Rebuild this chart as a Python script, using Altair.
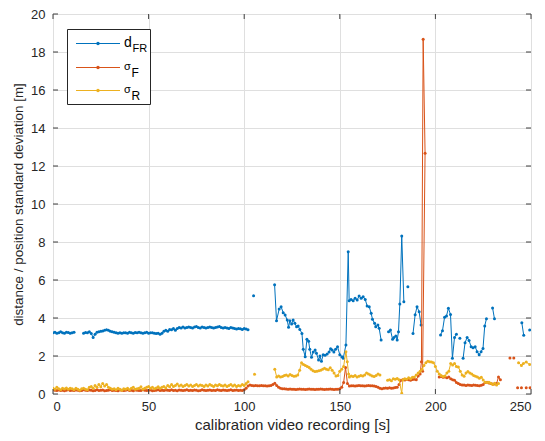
import altair as alt
import pandas as pd

FONT = "Liberation Sans"
C_D, C_F, C_R = "#0072BD", "#D95319", "#EDB120"

# ---------------- data ----------------
# d_FR (blue)
dfr_t = (list(range(0, 12)) + [None] + list(range(16, 103)) + [None] + [104.9] + [None] +
         [115.9, 116.9, 118.3, 119.3, 120.4, 121.4, 122.5, 123.2, 123.9, 124.8, 125.6, 126.5,
          127.4, 128.2, 129.1, 130.2, 130.9, 131.9, 132.8, 133.7, 134.3, 135.2, 136.1, 137.1,
          137.8, 138.9, 139.6, 140.4, 141.3, 142.3, 143.4, 144.4, 145.2, 146.0, 146.9, 147.8,
          148.8, 150.0, 151.1, 151.8, 153.2, 154.4, 154.9, 155.9, 157.0, 158.0, 159.1, 160.1,
          161.2, 162.2, 163.3, 164.3, 165.4, 166.4, 167.1, 168.2, 168.8, 169.9, 170.6, 171.6] + [None] +
         [175.5, 176.5, 177.6, 178.3, 179.3, 180.0, 180.7, 181.4, 182.4, 183.5] + [None] +
         [185.6] + [None] + [188.3, 189.4, 190.4, 191.5, 192.5] + [None] +
         [202.7, 203.7, 204.8, 205.8, 206.8, 207.9, 208.9, 210.0, 211.0] + [None] + [212.8] + [None] +
         [214.5, 215.5, 216.6, 217.6, 218.7, 219.7, 220.8, 221.8, 222.9, 223.9, 224.9, 225.8, 226.7] +
         [None] + [229.9, 230.9] + [None] + [245.2, 246.2] + [None] + [249.3])
dfr_v = ([3.22, 3.25, 3.2, 3.23, 3.27, 3.22, 3.2, 3.25, 3.24, 3.2, 3.22, 3.25] + [None] +
         [3.2, 3.24, 3.22, 3.27, 3.18, 2.98,
          3.15, 3.25, 3.28, 3.3, 3.32, 3.35, 3.38, 3.35, 3.3,
          3.28, 3.25, 3.22, 3.2, 3.22, 3.2, 3.23, 3.22, 3.2, 3.25,
          3.22, 3.2, 3.24, 3.22, 3.25, 3.23, 3.2, 3.22, 3.25, 3.2,
          3.23, 3.22, 3.2, 3.18, 3.2, 3.15, 3.2, 3.3, 3.35, 3.3,
          3.4, 3.38, 3.45, 3.35, 3.45, 3.5, 3.47, 3.52, 3.48, 3.5,
          3.53, 3.5, 3.47, 3.52, 3.55, 3.5, 3.48, 3.52, 3.5, 3.47,
          3.5, 3.53, 3.5, 3.48, 3.5, 3.52, 3.55, 3.5, 3.47, 3.5,
          3.48, 3.45, 3.5, 3.47, 3.45, 3.42, 3.45, 3.43, 3.4, 3.45,
          3.42, 3.38] + [None] + [5.17] + [None] +
         [5.75, 3.86, 4.47, 4.59, 4.28, 4.16, 3.89, 3.51, 3.86, 3.68, 3.89, 3.72,
          3.54, 3.58, 3.4, 3.19, 2.35, 1.96, 2.88, 2.77, 2.35, 1.93, 2.21, 2.32,
          2.14, 1.79, 2.0, 1.72, 2.07, 2.04, 2.11, 2.21, 2.38, 2.32, 2.21, 2.35,
          2.49, 2.07, 1.96, 1.88, 2.58, 7.49, 4.91, 4.98, 4.91, 5.04, 4.95, 5.16,
          5.04, 5.12, 4.98, 4.63, 4.59, 4.25, 3.93, 3.72, 3.54, 3.63, 3.46, 2.84] + [None] +
         [3.28, 3.37, 2.88, 2.98, 3.05, 2.84, 3.28, 4.74, 8.32, 4.86] + [None] +
         [5.65] + [None] + [3.19, 4.17, 4.59, 4.33, 3.63] + [None] +
         [3.11, 3.33, 4.04, 4.11, 4.51, 4.19, 1.88, 2.98, 3.14] + [None] + [2.93] + [None] +
         [1.88, 2.7, 2.98, 2.81, 2.49, 2.44, 2.49, 2.23, 2.07, 2.23, 2.4, 3.58, 3.96] +
         [None] + [4.53, 3.96] + [None] + [3.75, 3.09] + [None] + [3.37])

# sigma_F (orange)
sf_t = (list(range(0, 121)) + list(range(121, 193)) + [192.7, 193.6, 194.6, 193.3] + [None] +
        list(range(202, 235)) + [None, 239, None, 241, None, 243, None, 245, None, 247.5, None, 249.5])
sf_v = ([0.22, 0.2, 0.18, 0.21, 0.19, 0.2, 0.17, 0.2, 0.22, 0.19,
         0.2, 0.18, 0.21, 0.2, 0.17, 0.19, 0.22, 0.2, 0.18, 0.21,
         0.2, 0.17, 0.19, 0.22, 0.18, 0.2, 0.21, 0.17, 0.19, 0.2,
         0.22, 0.18, 0.2, 0.19, 0.17, 0.21, 0.2, 0.18, 0.2, 0.22,
         0.19, 0.2, 0.17, 0.21, 0.2, 0.18, 0.19, 0.22, 0.2, 0.18,
         0.2, 0.21, 0.17, 0.19, 0.2, 0.22, 0.18, 0.2, 0.19, 0.21,
         0.2, 0.18, 0.22, 0.19, 0.2, 0.17, 0.21, 0.2, 0.18, 0.2,
         0.22, 0.19, 0.2, 0.18, 0.21, 0.2, 0.17, 0.19, 0.22, 0.2,
         0.18, 0.2, 0.21, 0.19, 0.2, 0.18, 0.22, 0.2, 0.19, 0.21,
         0.2, 0.18, 0.2, 0.22, 0.19, 0.2, 0.21, 0.18, 0.2, 0.19,
         0.22, 0.3, 0.42, 0.47, 0.45, 0.44, 0.45, 0.43, 0.44, 0.45,
         0.43, 0.44, 0.42, 0.43, 0.45, 0.5, 0.56, 0.45, 0.35, 0.3, 0.28] +
        [0.27, 0.26, 0.25, 0.26, 0.25, 0.25, 0.24, 0.25, 0.26, 0.25,
         0.25, 0.24, 0.25, 0.26, 0.25, 0.25, 0.24, 0.25, 0.25, 0.26,
         0.25, 0.24, 0.25, 0.25, 0.26, 0.25, 0.24, 0.25, 0.25, 0.27,
         0.35, 0.6, 1.4, 0.55, 0.42,
         0.43, 0.44, 0.42, 0.43, 0.45, 0.44, 0.43, 0.42, 0.44, 0.45, 0.43, 0.44, 0.42,
         0.4, 0.35, 0.3, 0.28, 0.3, 0.32, 0.3, 0.33, 0.3, 0.32, 0.34, 0.35, 0.5,
         0.72, 0.75, 0.74, 0.76, 0.75, 0.73, 0.76, 0.78, 0.75, 0.95, 1.05] +
        [1.7, 18.67, 12.67, 1.2] + [None] +
        [0.9, 0.92, 0.88, 0.9, 0.85, 0.9, 0.8, 0.75, 0.72, 0.6, 0.55, 0.5, 0.48, 0.47, 0.45,
         0.47, 0.46, 0.45, 0.47, 0.46, 0.45, 0.44, 0.46, 0.5, 0.6, 0.62, 0.58, 0.55, 0.53,
         0.52, 0.55, 0.9, 0.75] +
        [None, 1.9, None, 1.9, None, 0.33, None, 0.33, None, 0.33, None, 0.33])

# sigma_R (yellow)
sr_t = (list(range(0, 103)) + [None, 105.4, None] + list(range(116, 153)) +
        [153.2, 153.9, 154.6] + list(range(155, 172)) + [None] + list(range(175, 182)) + [182.4] +
        list(range(183, 234)) + [None, 243.5, 245, 246, 247.5, 249.3])
sr_v = ([0.3, 0.25, 0.35, 0.28, 0.22, 0.3, 0.26, 0.32, 0.25, 0.3,
         0.28, 0.22, 0.3, 0.25, 0.2, 0.28, 0.3, 0.25, 0.22, 0.35,
         0.4, 0.3, 0.45, 0.35, 0.5, 0.38, 0.55, 0.42, 0.5, 0.35,
         0.3, 0.25, 0.28, 0.22, 0.3, 0.25, 0.2, 0.28, 0.25, 0.3,
         0.22, 0.3, 0.35, 0.25, 0.28, 0.3, 0.38, 0.25, 0.3, 0.35,
         0.4, 0.3, 0.35, 0.28, 0.32, 0.38, 0.3, 0.35, 0.4, 0.32,
         0.45, 0.38, 0.5, 0.4, 0.45, 0.52, 0.42, 0.48, 0.4, 0.45,
         0.5, 0.42, 0.48, 0.4, 0.45, 0.5, 0.42, 0.48, 0.45, 0.4,
         0.48, 0.42, 0.5, 0.45, 0.4, 0.48, 0.43, 0.5, 0.45, 0.42,
         0.48, 0.4, 0.45, 0.5, 0.42, 0.48, 0.4, 0.45, 0.42, 0.5,
         0.45, 0.55, 0.65] + [None, 1.04, None] +
        [1.3, 0.9, 0.95, 0.9, 0.92, 0.97, 1.0, 0.95, 1.02, 0.98, 0.93, 0.95, 1.0,
         1.25, 1.65, 1.55, 1.5, 1.45, 1.4, 1.3, 1.22, 1.18, 1.2, 1.22, 1.25, 1.3,
         1.35, 1.3, 1.28, 1.38, 1.25, 1.1, 0.95, 0.98, 1.2, 1.3, 1.45] +
        [2.23, 1.7, 1.05] +
        [0.9, 0.95, 0.92, 0.97, 0.9, 0.93, 0.98, 0.95, 1.0, 1.1, 1.05, 1.0, 0.95, 0.92,
         0.98, 1.05, 1.0] + [None] +
        [0.72, 0.75, 0.7, 0.8, 0.78, 0.82, 0.75] + [0.04] +
        [0.75, 0.8, 0.78, 0.85, 0.8, 0.88, 0.9, 1.0, 1.1, 1.2, 1.3, 1.5, 1.65, 1.72, 1.7,
         1.68, 1.65, 1.45, 1.2, 1.05, 0.97, 0.92, 0.95, 1.1, 1.2, 1.6, 1.53, 1.6, 1.45,
         1.42, 1.2, 1.0, 0.93, 1.1, 1.18, 1.1, 1.05, 0.98, 0.93, 0.9, 0.83, 0.88, 0.74,
         0.62, 0.6, 0.62, 0.56, 0.5, 0.56, 0.47, 0.55] +
        [None, 1.65, 1.5, 1.6, 1.68, 1.55])

x_ticks = [0, 50, 100, 150, 200, 250]
y_ticks = [0, 2, 4, 6, 8, 10, 12, 14, 16, 18, 20]


def build(name, ts, vs):
    rows, seg = [], 0
    for i, (t, v) in enumerate(zip(ts, vs)):
        if v is None:
            seg += 1
            continue
        rows.append(dict(series=name, t=t, v=v, seg=f"{name}-{seg}", i=i))
    return pd.DataFrame(rows)


W, H = 478, 380
xs = alt.Scale(domain=[0, 250], nice=False, zero=False)
ys = alt.Scale(domain=[0, 20], nice=False, zero=False)
x_axis = alt.Axis(values=x_ticks, grid=True, gridColor="#dfdfdf", ticks=False, domain=False,
                  labelFont=FONT, labelFontSize=13, labelColor="#262626", labelPadding=6,
                  title="calibration video recording [s]", titleFont=FONT, titleFontSize=15,
                  titleFontWeight="normal", titleColor="#262626", titlePadding=4)
y_axis = alt.Axis(values=y_ticks, grid=True, gridColor="#dfdfdf", ticks=False, domain=False,
                  labelFont=FONT, labelFontSize=13, labelColor="#262626", labelPadding=8,
                  title="distance / position standard deviation [m]", titleFont=FONT,
                  titleFontSize=13.4, titleFontWeight="normal", titleColor="#262626", titlePadding=5)


def X(field="t:Q"):
    return alt.X(field, scale=xs, axis=x_axis)


def Y(field="v:Q"):
    return alt.Y(field, scale=ys, axis=y_axis)


def series_layers(df, color):
    base = alt.Chart(df)
    line = base.mark_line(color=color, strokeWidth=1, clip=True).encode(
        x=X(), y=Y(), detail="seg:N", order="i:Q")
    pts = base.mark_circle(color=color, size=9, opacity=1, clip=True).encode(x=X(), y=Y())
    return [line, pts]


layers = []
layers += series_layers(build("dFR", dfr_t, dfr_v), C_D)
layers += series_layers(build("sF", sf_t, sf_v), C_F)
layers += series_layers(build("sR", sr_t, sr_v), C_R)

# inward ticks on all four sides
xt = pd.DataFrame({"t": x_ticks})
yt = pd.DataFrame({"v": y_ticks})
tick_col = "#404040"
layers.append(alt.Chart(xt).mark_rule(color=tick_col).encode(
    x=X(), y=alt.value(H), y2=alt.value(H - 5)))
layers.append(alt.Chart(xt).mark_rule(color=tick_col).encode(
    x=X(), y=alt.value(0), y2=alt.value(5)))
layers.append(alt.Chart(yt).mark_rule(color=tick_col).encode(
    y=Y(), x=alt.value(0), x2=alt.value(5)))
layers.append(alt.Chart(yt).mark_rule(color=tick_col).encode(
    y=Y(), x=alt.value(W), x2=alt.value(W - 5)))

# legend
dummy = pd.DataFrame({"a": [0]})
layers.append(alt.Chart(dummy).mark_rect(fill="white", stroke="#262626", strokeWidth=1).encode(
    x=alt.value(14.5), x2=alt.value(97.5), y=alt.value(15.5), y2=alt.value(90.5)))
rows_y = [29.5, 53.5, 76.5]
for yy, c in zip(rows_y, [C_D, C_F, C_R]):
    layers.append(alt.Chart(dummy).mark_rule(color=c, strokeWidth=1).encode(
        x=alt.value(23), x2=alt.value(67), y=alt.value(yy)))
    layers.append(alt.Chart(dummy).mark_circle(color=c, size=12, opacity=1).encode(
        x=alt.value(45), y=alt.value(yy)))


def txt(s, x, y, size):
    return alt.Chart(dummy).mark_text(align="left", baseline="alphabetic", font=FONT,
                                      fontSize=size, color="#000000").encode(
        x=alt.value(x), y=alt.value(y), text=alt.value(s))


layers += [txt("d", 71, 33, 14), txt("FR", 79.5, 38, 11),
           txt("σ", 71, 56, 11), txt("F", 78.5, 62.5, 12),
           txt("σ", 71, 79, 11), txt("R", 78.5, 85.5, 12)]

chart = alt.layer(*layers).properties(
    width=W, height=H,
    autosize=alt.AutoSizeParams(type="none"),
    padding={"left": 45, "top": 6, "right": 6, "bottom": 47},
).configure_view(stroke="#404040", strokeWidth=1).configure(background="white")

chart.save("out.html", embed_options={"renderer": "svg", "actions": False})
